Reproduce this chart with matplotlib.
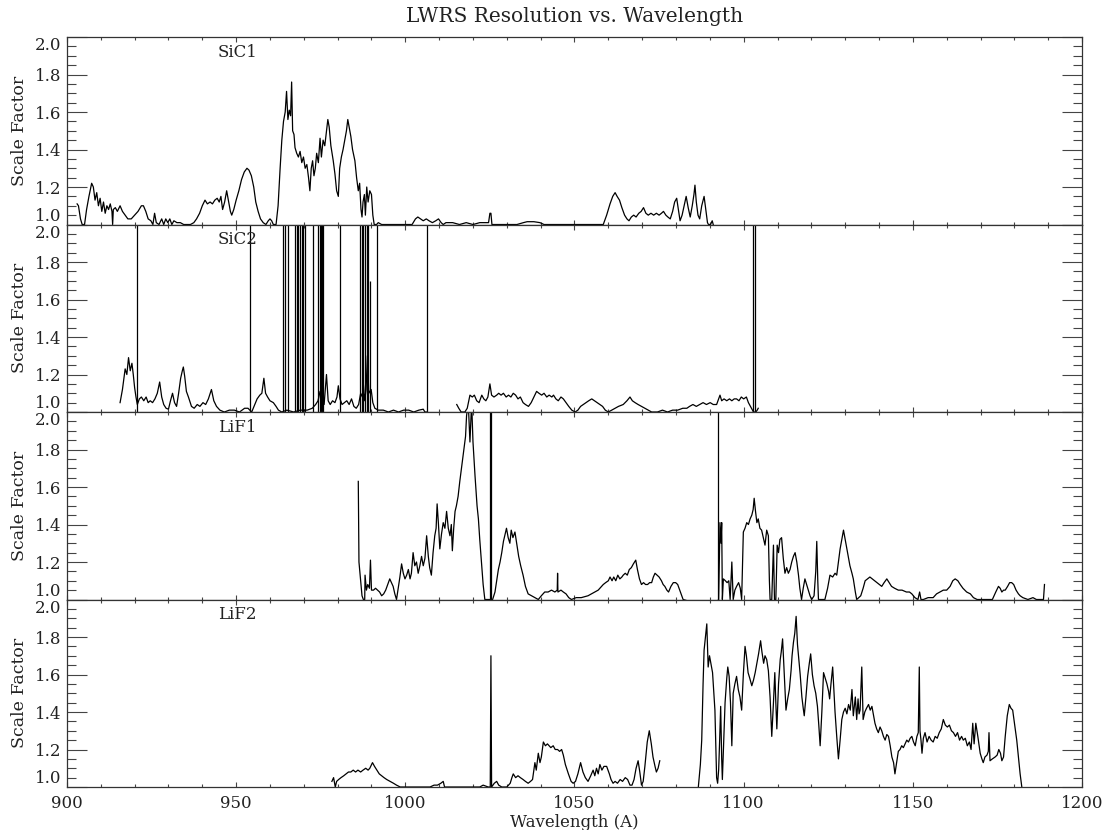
import numpy as np
import matplotlib
matplotlib.use('Agg')
import matplotlib.pyplot as plt
from matplotlib.ticker import MultipleLocator

nan = np.nan

# SiC1 channel
sic1_wave = [903.0, 903.4, 904.0, 904.5, 905.2, 905.8, 906.5, 907.3, 907.8, 908.3,
             908.8, 909.3, 909.8, 910.3, 910.8, 911.3, 911.8, 912.3, 912.8, 913.3,
             913.5, 913.7, 914.3, 914.9, 915.7, 916.4, 917.2, 918.0, 919.0, 920.0,
             921.0, 922.0, 922.6, 923.3, 924.0, 924.8, 925.4, 925.9, 926.4, 927.2,
             928.0, 928.6, 929.2, 929.8, 930.4, 931.0, 931.6, 932.5, 933.5, 934.5,
             935.5, 936.5, 937.5, 938.3, 939.2, 940.0, 940.8, 941.5, 942.3, 943.0,
             943.7, 944.4, 945.0, 945.5, 946.0, 946.6, 947.2, 947.8, 948.3, 948.7,
             949.3, 950.0, 950.8, 951.6, 952.4, 953.2, 953.8, 954.5, 955.2, 955.8,
             956.5, 957.2, 958.0, 958.8, 959.5, 960.0, 960.5, 961.0, 961.8, 962.4,
             963.0, 963.5, 964.0, 964.5, 964.9, 965.3, 965.7, 966.1, 966.4, 966.7,
             967.1, 967.4, 967.9, 968.4, 968.9, 969.4, 969.9, 970.4, 970.9, 971.4,
             971.8, 972.2, 972.6, 973.0, 973.4, 973.8, 974.3, 974.8, 975.2, 975.7,
             976.2, 976.7, 977.1, 977.5, 978.0, 978.7, 979.2, 979.7, 980.2, 980.6,
             981.1, 981.6, 982.1, 982.6, 983.0, 983.4, 983.9, 984.4, 985.1, 985.6,
             986.1, 986.5, 986.9, 987.2, 987.5, 987.9, 988.2, 988.6, 989.0, 989.5,
             990.0, 990.4, 990.8, 991.5, 992.0, 993.0, 995.0, 997.0, 999.0, 1000.5,
             1002.0, 1003.0, 1003.7, 1004.5, 1005.3, 1006.2, 1007.0, 1008.0, 1009.0, 1009.8,
             1010.6, 1011.2, 1012.0, 1014.0, 1016.0, 1018.0, 1020.0, 1022.0, 1024.6, 1025.0,
             1025.3, 1025.6, 1027.0, 1030.0, 1033.0, 1034.9, 1036.0, 1038.0, 1039.8, 1041.0,
             1045.0, 1050.0, 1054.0, 1058.5, 1059.5, 1060.5, 1061.3, 1062.0, 1062.6, 1063.3,
             1064.0, 1064.8, 1065.5, 1066.1, 1066.8, 1067.5, 1068.2, 1069.0, 1069.7, 1070.4,
             1071.1, 1071.8, 1072.6, 1073.4, 1074.2, 1075.0, 1075.7, 1076.3, 1077.0, 1077.6,
             1078.3, 1079.0, 1079.6, 1080.2, 1080.7, 1081.2, 1081.8, 1082.4, 1083.0, 1083.6,
             1084.2, 1084.8, 1085.3, 1085.6, 1086.0, 1086.5, 1087.0, 1087.6, 1088.3, 1088.8,
             1089.3, 1089.6, 1090.2, 1090.7, 1091.0]
sic1_scale = [1.11, 1.10, 1.03, 1.00, 1.00, 1.08, 1.15, 1.22, 1.20, 1.13,
              1.17, 1.10, 1.14, 1.07, 1.12, 1.06, 1.10, 1.08, 1.11, 1.07,
              1.00, 1.08, 1.09, 1.07, 1.10, 1.07, 1.05, 1.03, 1.03, 1.05,
              1.07, 1.10, 1.10, 1.07, 1.03, 1.02, 1.00, 1.06, 1.01, 1.00,
              1.03, 1.00, 1.03, 1.01, 1.03, 1.00, 1.02, 1.01, 1.01, 1.00,
              1.00, 1.00, 1.01, 1.03, 1.06, 1.10, 1.13, 1.11, 1.12, 1.11,
              1.13, 1.14, 1.12, 1.15, 1.08, 1.12, 1.18, 1.12, 1.07, 1.05,
              1.08, 1.13, 1.18, 1.24, 1.28, 1.30, 1.29, 1.26, 1.20, 1.12,
              1.07, 1.03, 1.01, 1.00, 1.02, 1.03, 1.02, 1.00, 1.00, 1.10,
              1.30, 1.45, 1.55, 1.60, 1.71, 1.56, 1.61, 1.58, 1.76, 1.50,
              1.48, 1.41, 1.38, 1.36, 1.39, 1.33, 1.36, 1.30, 1.32, 1.25,
              1.18, 1.30, 1.34, 1.26, 1.30, 1.38, 1.33, 1.46, 1.36, 1.45,
              1.42, 1.50, 1.56, 1.52, 1.42, 1.34, 1.27, 1.18, 1.15, 1.30,
              1.36, 1.40, 1.45, 1.50, 1.56, 1.52, 1.47, 1.40, 1.34, 1.25,
              1.18, 1.22, 1.08, 1.04, 1.12, 1.16, 1.05, 1.20, 1.12, 1.18,
              1.16, 1.05, 1.00, 1.00, 1.01, 1.00, 1.00, 1.00, 1.00, 1.00,
              1.00, 1.03, 1.04, 1.03, 1.02, 1.03, 1.02, 1.01, 1.02, 1.03,
              1.01, 1.00, 1.01, 1.01, 1.00, 1.01, 1.00, 1.01, 1.01, 1.06,
              1.06, 1.00, 1.00, 1.00, 1.00, 1.01, 1.015, 1.015, 1.01, 1.00,
              1.00, 1.00, 1.00, 1.00, 1.05, 1.11, 1.15, 1.17, 1.15, 1.13,
              1.09, 1.05, 1.03, 1.02, 1.04, 1.05, 1.04, 1.06, 1.07, 1.09,
              1.06, 1.05, 1.06, 1.05, 1.06, 1.05, 1.06, 1.07, 1.05, 1.04,
              1.03, 1.07, 1.12, 1.14, 1.08, 1.02, 1.05, 1.10, 1.15, 1.09,
              1.04, 1.10, 1.16, 1.21, 1.12, 1.05, 1.03, 1.10, 1.15, 1.08,
              1.01, 1.00, 1.00, 1.02, 1.00]

# SiC2 channel
sic2_wave = [915.7, 916.4, 917.2, 917.7, 918.2, 918.7, 919.2, 919.6, 920.0, 920.4,
             920.8, 921.4, 922.0, 922.7, 923.4, 924.0, 924.6, 925.3, 926.0, 926.7,
             927.4, 928.0, 928.6, 929.3, 930.0, 930.6, 931.2, 931.8, 932.4, 933.0,
             933.6, 934.1, 934.4, 934.8, 935.3, 935.9, 936.8, 937.6, 938.5, 939.3,
             940.2, 941.0, 941.8, 942.7, 943.4, 944.2, 945.2, 946.5, 948.0, 949.5,
             951.0, 952.5, 953.5, 954.6, 955.3, 956.2, 957.0, 957.6, 958.2, 958.7,
             959.3, 960.0, 961.0, 961.8, 962.5, 963.5, 965.0, 967.0, 969.0, 971.0,
             972.5, 973.5, 974.2, 974.8, 975.4, 976.0, 976.7, 977.2, 977.8, 978.5,
             979.2, 979.8, 980.2, 980.7, 981.3, 982.0, 982.7, 983.4, 984.1, 984.8,
             985.5, 986.2, 986.8, 987.3, 987.6, 988.0, 988.4, 988.8, 989.2, 989.9,
             990.4, 991.0, 992.0, 993.5, 995.0, 996.5, 998.0, 999.5, 1001.0, 1002.5,
             1004.0, 1005.3, 1005.8, 1006.5, nan,
             1015.2, 1015.8, 1016.5, 1017.6, 1018.3, 1019.1, 1019.8, 1020.4, 1021.1, 1021.8,
             1022.6, 1023.2, 1023.8, 1024.4, 1025.0, 1025.5, 1026.2, 1027.0, 1027.6, 1028.3,
             1029.0, 1029.8, 1030.5, 1031.2, 1031.9, 1032.6, 1033.3, 1034.0, 1034.8, 1035.5,
             1036.4, 1037.2, 1038.0, 1038.8, 1039.5, 1040.3, 1041.0, 1041.8, 1042.5, 1043.3,
             1043.8, 1044.5, 1045.2, 1046.0, 1046.7, 1047.5, 1048.3, 1049.2, 1050.2, 1051.0,
             1051.8, 1052.6, 1053.4, 1054.2, 1055.1, 1055.9, 1056.7, 1057.5, 1058.3, 1059.1,
             1060.0, 1061.0, 1062.0, 1063.0, 1064.4, 1065.5, 1066.4, 1067.1, 1067.9, 1068.8,
             1069.8, 1070.8, 1071.8, 1072.8, 1074.5, 1076.0, 1077.5, 1079.0, 1080.5, 1082.0,
             1083.2, 1084.0, 1085.0, 1086.0, 1087.0, 1088.0, 1089.0, 1090.1, 1091.0, 1092.0,
             1092.6, 1093.0, 1093.5, 1094.2, 1095.0, 1095.8, 1096.5, 1097.2, 1097.9, 1098.6,
             1099.3, 1100.0, 1100.8, 1101.4, 1102.0, 1102.9, 1103.6, 1104.0, 1104.3]
sic2_scale = [1.05, 1.12, 1.23, 1.20, 1.29, 1.22, 1.26, 1.20, 1.13, 1.08,
              1.04, 1.07, 1.08, 1.06, 1.08, 1.05, 1.06, 1.05, 1.07, 1.10,
              1.16, 1.08, 1.04, 1.02, 1.015, 1.06, 1.10, 1.05, 1.03, 1.10,
              1.18, 1.22, 1.24, 1.19, 1.11, 1.08, 1.03, 1.02, 1.04, 1.03,
              1.05, 1.04, 1.07, 1.12, 1.06, 1.03, 1.01, 1.00, 1.01, 1.01,
              1.00, 1.02, 1.02, 1.00, 1.03, 1.07, 1.09, 1.10, 1.18, 1.10,
              1.08, 1.06, 1.05, 1.03, 1.01, 1.00, 1.01, 1.00, 1.01, 1.01,
              1.02, 1.04, 1.06, 1.11, 1.05, 1.04, 1.20, 1.06, 1.04, 1.06,
              1.05, 1.08, 1.14, 1.07, 1.04, 1.05, 1.06, 1.04, 1.07, 1.03,
              1.02, 1.04, 1.10, 1.08, 1.15, 1.06, 1.12, 1.30, 1.10, 1.12,
              1.05, 1.02, 1.01, 1.01, 1.00, 1.01, 1.00, 1.01, 1.01, 1.00,
              1.01, 1.015, 1.00, 1.00, nan,
              1.04, 1.02, 1.00, 1.00, 1.02, 1.09, 1.08, 1.09, 1.06, 1.05,
              1.09, 1.07, 1.06, 1.08, 1.15, 1.09, 1.08, 1.09, 1.10, 1.09,
              1.10, 1.08, 1.09, 1.08, 1.10, 1.09, 1.07, 1.08, 1.05, 1.04,
              1.03, 1.05, 1.08, 1.11, 1.10, 1.09, 1.10, 1.08, 1.09, 1.08,
              1.09, 1.07, 1.06, 1.08, 1.07, 1.05, 1.03, 1.01, 1.00, 1.01,
              1.03, 1.04, 1.05, 1.06, 1.07, 1.06, 1.05, 1.04, 1.03, 1.01,
              1.00, 1.01, 1.02, 1.03, 1.04, 1.06, 1.08, 1.06, 1.05, 1.04,
              1.03, 1.02, 1.01, 1.00, 1.00, 1.01, 1.00, 1.01, 1.01, 1.02,
              1.02, 1.03, 1.04, 1.03, 1.04, 1.05, 1.04, 1.05, 1.04, 1.04,
              1.07, 1.09, 1.06, 1.07, 1.06, 1.07, 1.06, 1.07, 1.07, 1.06,
              1.08, 1.07, 1.08, 1.05, 1.03, 1.00, 1.00, 1.01, 1.02]
# bad pixels in SiC2 that shoot off the top of the panel
sic2_spike_wave = [920.6, 954.1, 963.8, 964.3, 965.4, 967.4, 967.9, 968.4, 968.9, 969.4,
                   969.9, 970.3, 972.8, 974.3, 974.7, 975.1, 975.5, 975.8, 980.7, 986.6,
                   987.1, 987.6, 988.1, 988.6, 989.1, 989.5, 991.5, 1006.3, 1102.9, 1103.2]
sic2_spike_top = [2.5, 2.5, 2.5, 2.5, 2.5, 2.5, 2.5, 2.5, 2.5, 2.5,
                  2.5, 2.5, 2.5, 2.5, 2.5, 2.5, 2.5, 2.5, 2.5, 2.5,
                  2.5, 2.5, 2.5, 2.5, 2.5, 1.70, 2.5, 2.5, 2.5, 2.5]

# LiF1 channel
lif1_wave = [986.1, 986.3, 986.8, 987.2, 987.6, 988.0, 988.1, 988.5, 988.9, 989.4,
             989.7, 990.0, 990.6, 991.2, 991.8, 992.4, 993.0, 993.6, 994.2, 994.8,
             995.4, 995.9, 996.4, 996.9, 997.4, 997.9, 998.4, 998.9, 999.4, 999.9,
             1000.4, 1000.9, 1001.4, 1001.8, 1002.3, 1002.8, 1003.3, 1003.8, 1004.3, 1004.8,
             1005.3, 1005.8, 1006.3, 1006.8, 1007.2, 1007.7, 1008.2, 1008.7, 1009.1, 1009.4,
             1009.8, 1010.2, 1010.7, 1011.2, 1011.7, 1012.2, 1012.7, 1013.2, 1013.6, 1013.9,
             1014.3, 1014.7, 1015.1, 1015.6, 1016.1, 1016.6, 1017.1, 1017.5, 1017.8, 1018.1,
             1018.6, 1019.1, 1019.6, 1020.0, 1020.3, 1020.6, 1021.2, 1021.6, 1022.0, 1022.5,
             1023.0, 1023.5, 1024.0, 1024.6, 1025.2, 1025.8, 1026.5, 1027.0, 1027.5, 1028.0,
             1028.5, 1029.0, 1029.4, 1029.9, 1030.4, 1030.9, 1031.3, 1031.8, 1032.4, 1032.9,
             1033.5, 1034.1, 1034.8, 1035.5, 1036.3, 1037.3, 1038.3, 1039.3, 1040.2, 1041.2,
             1042.2, 1043.2, 1044.2, 1044.9, 1045.0, 1045.1, 1046.0, 1046.7, 1047.5, 1048.3,
             1049.1, 1050.5, 1052.0, 1054.0, 1055.0, 1056.0, 1057.0, 1058.0, 1058.5, 1059.2,
             1060.0, 1060.5, 1061.1, 1061.6, 1062.2, 1062.8, 1063.4, 1064.0, 1064.4, 1065.0,
             1065.6, 1066.2, 1066.8, 1067.4, 1068.1, 1068.6, 1069.2, 1069.8, 1070.4, 1071.0,
             1071.6, 1072.2, 1072.8, 1073.3, 1073.8, 1074.4, 1075.0, 1075.7, 1076.2, 1076.7,
             1077.3, 1077.8, 1078.5, 1079.2, 1079.9, 1080.5, 1081.3, 1082.1, 1084.0, 1087.0,
             1090.0, 1092.2, 1092.6, 1093.0, 1093.3, 1093.5, 1093.7, 1094.0, 1094.6, 1095.1,
             1095.6, 1096.0, 1096.5, 1096.9, 1097.4, 1097.9, 1098.5, 1099.0, 1099.4, 1099.9,
             1100.4, 1100.9, 1101.4, 1101.9, 1102.4, 1102.8, 1103.1, 1103.5, 1103.9, 1104.3,
             1104.8, 1105.3, 1105.8, 1106.3, 1106.8, 1107.3, 1107.6, 1107.8, 1108.3, 1108.8,
             1109.1, 1109.5, 1109.9, 1110.3, 1110.7, 1111.2, 1111.7, 1112.2, 1112.7, 1113.2,
             1113.7, 1114.2, 1114.7, 1115.2, 1115.7, 1116.2, 1116.6, 1117.1, 1117.6, 1118.1,
             1118.6, 1119.1, 1119.6, 1120.1, 1120.8, 1121.3, 1121.6, 1121.9, 1122.1, 1123.0,
             1124.0, 1124.8, 1125.5, 1126.3, 1127.0, 1127.5, 1128.0, 1128.5, 1129.0, 1129.5,
             1130.0, 1130.5, 1131.0, 1131.4, 1132.0, 1132.4, 1133.0, 1133.4, 1134.0, 1134.6,
             1135.3, 1135.9, 1136.6, 1137.3, 1138.0, 1138.7, 1139.4, 1140.1, 1140.8, 1141.5,
             1142.3, 1143.0, 1143.7, 1144.6, 1145.7, 1146.8, 1148.1, 1149.0, 1149.7, 1150.6,
             1151.5, 1152.0, 1152.4, 1153.1, 1154.5, 1156.0, 1157.0, 1158.0, 1159.0, 1160.0,
             1161.0, 1161.8, 1162.5, 1163.3, 1164.0, 1164.8, 1165.9, 1167.0, 1167.9, 1169.0,
             1170.5, 1172.0, 1173.5, 1174.5, 1175.3, 1175.8, 1176.3, 1176.8, 1177.3, 1178.0,
             1178.6, 1179.2, 1179.8, 1180.5, 1181.2, 1181.7, 1182.5, 1184.0, 1185.5, 1186.5,
             1188.0, 1188.6, 1188.9]
lif1_scale = [1.63, 1.20, 1.10, 1.02, 1.00, 1.00, 1.13, 1.05, 1.08, 1.06,
              1.21, 1.05, 1.05, 1.06, 1.05, 1.04, 1.02, 1.03, 1.05, 1.08,
              1.11, 1.09, 1.07, 1.03, 1.00, 1.06, 1.12, 1.19, 1.14, 1.11,
              1.13, 1.16, 1.11, 1.14, 1.25, 1.18, 1.20, 1.14, 1.18, 1.23,
              1.18, 1.22, 1.34, 1.23, 1.17, 1.13, 1.25, 1.34, 1.38, 1.51,
              1.40, 1.27, 1.35, 1.41, 1.38, 1.47, 1.38, 1.34, 1.40, 1.26,
              1.38, 1.47, 1.50, 1.55, 1.63, 1.70, 1.77, 1.83, 1.87, 1.98,
              2.05, 1.84, 2.05, 1.84, 1.75, 1.66, 1.50, 1.43, 1.32, 1.20,
              1.08, 1.00, 1.00, 1.00, 1.00, 1.00, 1.04, 1.10, 1.16, 1.20,
              1.25, 1.31, 1.34, 1.38, 1.33, 1.30, 1.37, 1.33, 1.36, 1.30,
              1.23, 1.18, 1.13, 1.07, 1.03, 1.02, 1.01, 1.00, 1.02, 1.04,
              1.04, 1.05, 1.04, 1.05, 1.14, 1.04, 1.05, 1.04, 1.03, 1.01,
              1.00, 1.01, 1.01, 1.02, 1.03, 1.04, 1.05, 1.07, 1.08, 1.09,
              1.10, 1.12, 1.10, 1.12, 1.10, 1.13, 1.11, 1.12, 1.13, 1.14,
              1.13, 1.16, 1.17, 1.19, 1.21, 1.16, 1.11, 1.08, 1.09, 1.08,
              1.08, 1.09, 1.09, 1.12, 1.14, 1.13, 1.12, 1.10, 1.08, 1.07,
              1.05, 1.04, 1.07, 1.09, 1.09, 1.08, 1.04, 1.00, 0.99, 0.99,
              0.99, 0.99, 1.00, 1.41, 1.30, 1.41, 1.00, 1.11, 1.10, 1.09,
              1.10, 1.00, 1.20, 1.00, 1.05, 1.07, 1.09, 1.06, 1.00, 1.36,
              1.38, 1.41, 1.40, 1.43, 1.45, 1.48, 1.54, 1.47, 1.41, 1.43,
              1.38, 1.37, 1.33, 1.29, 1.37, 1.34, 1.10, 1.00, 1.00, 1.29,
              1.00, 1.00, 1.29, 1.25, 1.32, 1.33, 1.22, 1.14, 1.17, 1.14,
              1.16, 1.20, 1.23, 1.25, 1.20, 1.13, 1.06, 1.00, 1.06, 1.11,
              1.08, 1.05, 1.02, 1.00, 1.02, 1.15, 1.31, 1.10, 1.00, 1.00,
              1.00, 1.06, 1.13, 1.12, 1.14, 1.13, 1.20, 1.27, 1.32, 1.37,
              1.32, 1.27, 1.22, 1.18, 1.14, 1.11, 1.04, 1.00, 1.01, 1.02,
              1.06, 1.10, 1.11, 1.12, 1.11, 1.10, 1.09, 1.08, 1.07, 1.09,
              1.11, 1.09, 1.07, 1.06, 1.05, 1.05, 1.04, 1.04, 1.03, 1.01,
              1.00, 1.04, 1.00, 1.00, 1.01, 1.01, 1.03, 1.04, 1.05, 1.05,
              1.07, 1.10, 1.11, 1.10, 1.08, 1.06, 1.04, 1.03, 1.01, 1.00,
              1.00, 1.00, 1.00, 1.04, 1.07, 1.06, 1.04, 1.05, 1.05, 1.07,
              1.09, 1.09, 1.08, 1.05, 1.03, 1.02, 1.01, 1.00, 1.01, 1.00,
              1.00, 1.00, 1.08]
lif1_spike_wave = [1024.9, 1025.4, 1092.5]
lif1_spike_top = [2.5, 2.5, 2.5]

# LiF2 channel
lif2_wave = [978.3, 978.8, 979.3, 979.7, 980.3, 981.0, 981.8, 982.5, 983.2, 983.9,
             984.6, 985.3, 986.0, 986.8, 987.5, 988.3, 989.0, 989.5, 990.3, 990.9,
             991.6, 992.3, 993.0, 993.7, 994.5, 995.5, 996.5, 997.4, 998.5, 1000.0,
             1002.0, 1004.0, 1006.0, 1007.3, 1008.5, 1009.5, 1010.5, 1011.2, 1011.6, 1013.0,
             1016.0, 1019.0, 1022.0, 1023.0, 1024.5, 1025.1, 1025.3, 1025.5, 1026.3, 1027.0,
             1027.6, 1028.5, 1030.0, 1031.0, 1031.5, 1031.9, 1032.6, 1033.3, 1034.0, 1034.8,
             1035.5, 1036.3, 1037.0, 1037.6, 1038.0, 1038.3, 1038.7, 1039.3, 1039.8, 1040.2,
             1040.8, 1041.4, 1042.0, 1042.5, 1043.0, 1043.7, 1044.3, 1045.0, 1045.6, 1046.2,
             1046.7, 1047.3, 1048.2, 1049.0, 1049.6, 1050.3, 1051.0, 1051.8, 1052.5, 1053.2,
             1054.0, 1054.8, 1055.5, 1056.0, 1056.5, 1057.0, 1057.5, 1058.1, 1058.7, 1059.5,
             1060.3, 1060.8, 1061.4, 1062.0, 1062.7, 1063.5, 1064.2, 1065.0, 1065.7, 1066.4,
             1067.0, 1067.6, 1068.2, 1068.8, 1069.3, 1069.8, 1070.3, 1070.8, 1071.5, 1072.1,
             1072.7, 1073.2, 1073.8, 1074.2, 1074.7, 1075.2, nan,
             1086.6, 1087.2, 1087.6, 1088.0, 1088.3, 1088.7, 1089.1, 1089.5, 1089.9, 1090.3,
             1090.8, 1091.2, 1091.5, 1091.8, 1092.0, 1092.3, 1092.6, 1092.9, 1093.2, 1093.5,
             1093.7, 1094.1, 1094.5, 1095.0, 1095.3, 1095.7, 1096.1, 1096.5, 1096.9, 1097.4,
             1097.9, 1098.4, 1098.9, 1099.4, 1099.9, 1100.4, 1100.8, 1101.3, 1101.8, 1102.4,
             1102.9, 1103.4, 1103.9, 1104.4, 1105.0, 1105.4, 1105.9, 1106.3, 1106.8, 1107.3,
             1107.8, 1108.3, 1108.8, 1109.2, 1109.5, 1109.8, 1110.3, 1110.8, 1111.1, 1111.5,
             1112.0, 1112.5, 1113.0, 1113.5, 1114.0, 1114.3, 1114.7, 1115.1, 1115.5, 1115.9,
             1116.2, 1116.7, 1117.2, 1117.6, 1117.9, 1118.4, 1118.9, 1119.4, 1119.8, 1120.3,
             1120.8, 1121.3, 1121.8, 1122.2, 1122.6, 1123.1, 1123.6, 1124.1, 1124.6, 1125.1,
             1125.4, 1125.8, 1126.3, 1126.7, 1127.0, 1127.5, 1128.0, 1128.5, 1129.0, 1129.5,
             1130.0, 1130.5, 1131.0, 1131.5, 1132.0, 1132.4, 1132.7, 1133.0, 1133.4, 1133.8,
             1134.1, 1134.4, 1134.9, 1135.3, 1135.8, 1136.3, 1136.9, 1137.4, 1137.9, 1138.4,
             1138.8, 1139.3, 1139.8, 1140.3, 1140.8, 1141.3, 1141.8, 1142.3, 1142.8, 1143.3,
             1143.8, 1144.3, 1144.7, 1145.2, 1145.7, 1146.2, 1146.7, 1147.2, 1147.7, 1148.2,
             1148.7, 1149.2, 1149.7, 1150.2, 1150.7, 1151.2, 1151.6, 1151.9, 1152.1, 1152.4,
             1152.7, 1153.1, 1153.6, 1154.2, 1154.8, 1155.4, 1156.0, 1156.6, 1157.2, 1157.8,
             1158.4, 1159.0, 1159.6, 1160.2, 1160.8, 1161.4, 1162.0, 1162.6, 1163.2, 1163.8,
             1164.4, 1164.9, 1165.5, 1166.1, 1166.7, 1167.2, 1167.7, 1168.1, 1168.6, 1169.2,
             1169.9, 1170.4, 1170.8, 1171.3, 1171.9, 1172.3, 1172.5, 1172.8, 1173.5, 1174.3,
             1174.9, 1175.4, 1175.9, 1176.3, 1176.8, 1177.3, 1177.9, 1178.5, 1179.0, 1179.5,
             1180.1, 1180.7, 1181.2, 1181.7, 1182.2, 1182.6]
lif2_scale = [1.03, 1.05, 1.00, 1.03, 1.04, 1.05, 1.06, 1.07, 1.08, 1.08,
              1.09, 1.08, 1.09, 1.08, 1.09, 1.10, 1.09, 1.10, 1.13, 1.11,
              1.09, 1.07, 1.06, 1.05, 1.04, 1.03, 1.02, 1.01, 1.00, 1.00,
              1.00, 1.00, 1.00, 1.00, 1.01, 1.01, 1.02, 1.03, 1.00, 1.00,
              1.00, 1.00, 1.00, 1.01, 1.00, 1.00, 1.70, 1.00, 1.02, 1.03,
              1.01, 1.00, 1.00, 1.02, 1.05, 1.07, 1.05, 1.06, 1.05, 1.04,
              1.03, 1.02, 1.03, 1.04, 1.09, 1.13, 1.09, 1.18, 1.13, 1.16,
              1.24, 1.22, 1.23, 1.22, 1.21, 1.22, 1.20, 1.20, 1.19, 1.20,
              1.17, 1.12, 1.07, 1.03, 1.02, 1.03, 1.07, 1.13, 1.08, 1.05,
              1.03, 1.06, 1.09, 1.06, 1.10, 1.07, 1.12, 1.09, 1.11, 1.11,
              1.07, 1.04, 1.02, 1.03, 1.02, 1.04, 1.03, 1.05, 1.04, 1.01,
              1.01, 1.04, 1.10, 1.14, 1.08, 1.01, 1.03, 1.11, 1.24, 1.30,
              1.23, 1.16, 1.11, 1.08, 1.10, 1.14, nan,
              1.00, 1.12, 1.25, 1.55, 1.73, 1.80, 1.87, 1.64, 1.70, 1.66,
              1.61, 1.50, 1.41, 1.20, 1.05, 1.02, 1.09, 1.25, 1.43, 1.15,
              1.04, 1.25, 1.45, 1.58, 1.64, 1.59, 1.45, 1.22, 1.50, 1.55,
              1.59, 1.52, 1.48, 1.41, 1.60, 1.75, 1.70, 1.61, 1.58, 1.54,
              1.57, 1.61, 1.66, 1.71, 1.78, 1.72, 1.66, 1.70, 1.68, 1.62,
              1.48, 1.27, 1.45, 1.61, 1.45, 1.31, 1.55, 1.68, 1.72, 1.79,
              1.60, 1.41, 1.47, 1.52, 1.62, 1.70, 1.77, 1.82, 1.91, 1.76,
              1.70, 1.60, 1.48, 1.42, 1.38, 1.48, 1.59, 1.66, 1.71, 1.60,
              1.54, 1.50, 1.43, 1.33, 1.22, 1.40, 1.61, 1.58, 1.55, 1.51,
              1.47, 1.55, 1.64, 1.50, 1.40, 1.27, 1.15, 1.25, 1.36, 1.40,
              1.42, 1.39, 1.44, 1.41, 1.52, 1.38, 1.43, 1.48, 1.36, 1.47,
              1.39, 1.41, 1.64, 1.36, 1.40, 1.42, 1.44, 1.41, 1.43, 1.38,
              1.34, 1.31, 1.29, 1.32, 1.30, 1.27, 1.25, 1.28, 1.27, 1.22,
              1.16, 1.13, 1.07, 1.13, 1.19, 1.20, 1.22, 1.21, 1.23, 1.25,
              1.24, 1.26, 1.27, 1.24, 1.22, 1.27, 1.29, 1.64, 1.30, 1.25,
              1.18, 1.26, 1.29, 1.24, 1.27, 1.25, 1.24, 1.27, 1.26, 1.29,
              1.31, 1.36, 1.33, 1.32, 1.33, 1.30, 1.29, 1.27, 1.29, 1.25,
              1.27, 1.25, 1.26, 1.22, 1.24, 1.20, 1.34, 1.23, 1.34, 1.27,
              1.18, 1.15, 1.13, 1.16, 1.17, 1.19, 1.29, 1.14, 1.15, 1.16,
              1.17, 1.20, 1.18, 1.14, 1.16, 1.27, 1.38, 1.44, 1.42, 1.41,
              1.33, 1.25, 1.16, 1.07, 1.00, 0.97]

channels = ['SiC1', 'SiC2', 'LiF1', 'LiF2']
waves = [sic1_wave, sic2_wave, lif1_wave, lif2_wave]
scales = [sic1_scale, sic2_scale, lif1_scale, lif2_scale]
spikes = {'SiC2': (sic2_spike_wave, sic2_spike_top),
          'LiF1': (lif1_spike_wave, lif1_spike_top)}
yticks = [1.0, 1.2, 1.4, 1.6, 1.8, 2.0]
ytick_labels = ['1.0', '1.2', '1.4', '1.6', '1.8', '2.0']

plt.rcParams['font.family'] = 'DejaVu Serif'
ink = '#222222'

fig = plt.figure(figsize=(11.03, 8.30), dpi=100)
gs = fig.add_gridspec(4, 1, left=0.0607, right=0.981, top=0.9554, bottom=0.0518, hspace=0)

for i, name in enumerate(channels):
    ax = fig.add_subplot(gs[i])
    ax.plot(waves[i], scales[i], color='black', lw=0.9)
    if name in spikes:
        sw, st = spikes[name]
        ax.vlines(sw, 1.0, st, color='black', lw=0.9)
    ax.set_xlim(900, 1200)
    ax.set_ylim(1.0, 2.0)
    ax.xaxis.set_major_locator(MultipleLocator(50))
    ax.xaxis.set_minor_locator(MultipleLocator(10))
    ax.set_yticks(yticks)
    ax.set_yticklabels(ytick_labels)
    ax.yaxis.set_minor_locator(MultipleLocator(0.05))
    # edge labels sit inside the panel, like the original IDL plot
    ylabs = ax.get_yticklabels()
    ylabs[0].set_va('bottom')
    ylabs[-1].set_va('top')
    ax.tick_params(axis='both', which='both', direction='in', top=True, right=True,
                   color='#444444', width=0.8, labelsize=12, labelcolor=ink)
    ax.tick_params(axis='y', which='major', length=14.5, pad=4)
    ax.tick_params(axis='y', which='minor', length=6.5)
    ax.tick_params(axis='x', which='major', length=3.6, pad=6)
    ax.tick_params(axis='x', which='minor', length=2.2)
    for s in ax.spines.values():
        s.set_color('#333333')
        s.set_linewidth(0.9)
    ax.set_ylabel('Scale Factor', fontsize=12.5, color=ink, labelpad=5)
    ax.text(944.6, 1.92, name, fontsize=12, color=ink, ha='left', va='center')
    if i < 3:
        ax.tick_params(axis='x', labelbottom=False)
    else:
        ax.set_xlabel('Wavelength (A)', fontsize=12, color=ink, labelpad=1)
    if i == 0:
        ax.set_title('LWRS Resolution vs. Wavelength', fontsize=14.5, color=ink, pad=11)

fig.savefig('out.png', dpi=100)
